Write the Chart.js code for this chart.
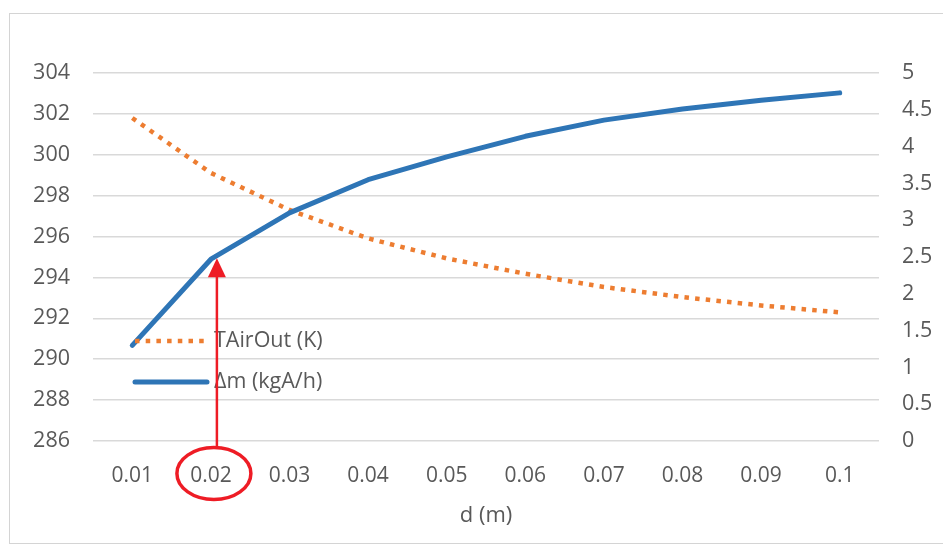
<!DOCTYPE html>
<html>
<head>
<meta charset="utf-8">
<script src="https://cdn.jsdelivr.net/npm/chart.js@4/dist/chart.umd.min.js"></script>
<style>
  html, body { margin: 0; padding: 0; background: #ffffff; }
  #wrap { width: 943px; height: 546px; position: relative; }
</style>
</head>
<body>
<div id="wrap"><canvas id="c" width="943" height="546"></canvas></div>
<script>
// Channel spacing d (m)
const categories = ['0.01', '0.02', '0.03', '0.04', '0.05', '0.06', '0.07', '0.08', '0.09', '0.1'];
// Outlet air temperature (K), left axis
const tAirOut = [301.80, 299.11, 297.30, 295.91, 294.93, 294.18, 293.53, 293.04, 292.63, 292.29];
// Mass change (kgA/h), right axis
const deltaM = [1.30, 2.47, 3.10, 3.55, 3.86, 4.14, 4.36, 4.51, 4.63, 4.73];

const seriesLabels = ['TAirOut (K)', '\u0394m (kgA/h)'];
const xTitle = 'd (m)';
const leftTicks = { min: 286, max: 304, step: 2 };
const rightTicks = { min: 0, max: 5, step: 0.5 };
const highlightIndex = 1;

const FONT = '"Open Sans", "Noto Sans", sans-serif';
const TEXT = '#595959';
const ORANGE = '#ED7D31';
const BLUE = '#2E75B6';
const RED = '#EE1C25';

// Frame around the chart
const framePlugin = {
  id: 'frame',
  beforeDraw(chart) {
    const ctx = chart.ctx;
    ctx.save();
    ctx.fillStyle = '#ffffff';
    ctx.fillRect(0, 0, chart.width, chart.height);
    ctx.strokeStyle = '#d4d4d4';
    ctx.lineWidth = 1;
    ctx.strokeRect(9.5, 13.5, chart.width, 530);
    ctx.restore();
  }
};

// Legend drawn inside the plot, lower left
const innerLegend = {
  id: 'innerLegend',
  afterDatasetsDraw(chart) {
    const ctx = chart.ctx;
    const x0 = chart.chartArea.left + 42;
    const rows = [341, 382];
    ctx.save();
    chart.data.datasets.forEach((ds, i) => {
      const y = rows[i];
      ctx.beginPath();
      ctx.strokeStyle = ds.borderColor;
      ctx.lineWidth = ds.borderWidth;
      ctx.lineCap = ds.borderCapStyle || 'butt';
      ctx.setLineDash(ds.borderDash || []);
      ctx.moveTo(x0, y);
      ctx.lineTo(x0 + 72, y);
      ctx.stroke();
      ctx.setLineDash([]);
      ctx.fillStyle = TEXT;
      ctx.font = '21.5px ' + FONT;
      ctx.textAlign = 'left';
      ctx.textBaseline = 'middle';
      ctx.fillText(ds.label, x0 + 79, y);
    });
    ctx.restore();
  }
};

// Red arrow from the highlighted d label up to its curve point, label circled
const callout = {
  id: 'callout',
  afterDraw(chart) {
    const ctx = chart.ctx;
    const pt = chart.getDatasetMeta(1).data[highlightIndex];
    const xs = chart.scales.x;
    const cx = xs.getPixelForValue(highlightIndex) + 3;
    const cy = 473.5;
    const ax = pt.x + 6;
    const tipY = pt.y - 1;
    ctx.save();
    ctx.strokeStyle = RED;
    ctx.fillStyle = RED;
    ctx.lineWidth = 2.5;
    ctx.beginPath();
    ctx.moveTo(ax, cy - 26);
    ctx.lineTo(ax, tipY + 18);
    ctx.stroke();
    ctx.beginPath();
    ctx.moveTo(ax, tipY);
    ctx.lineTo(ax - 9, tipY + 19);
    ctx.lineTo(ax + 9, tipY + 19);
    ctx.closePath();
    ctx.fill();
    ctx.lineWidth = 3.5;
    ctx.beginPath();
    ctx.ellipse(cx, cy, 37, 26, 0, 0, Math.PI * 2);
    ctx.stroke();
    ctx.restore();
  }
};

const plainNumber = v => String(Number(v.toFixed(2)));

new Chart(document.getElementById('c'), {
  type: 'line',
  data: {
    labels: categories,
    datasets: [
      {
        label: seriesLabels[0],
        data: tAirOut,
        yAxisID: 'y',
        borderColor: ORANGE,
        borderWidth: 4.5,
        borderDash: [4.5, 6.2],
        borderCapStyle: 'butt',
        pointRadius: 0,
        tension: 0,
        fill: false,
        order: 1
      },
      {
        label: seriesLabels[1],
        data: deltaM,
        yAxisID: 'y1',
        borderColor: BLUE,
        borderWidth: 5,
        borderCapStyle: 'round',
        borderJoinStyle: 'round',
        pointRadius: 0,
        tension: 0,
        fill: false,
        order: 0
      }
    ]
  },
  options: {
    responsive: false,
    animation: false,
    devicePixelRatio: 1,
    layout: { padding: { top: 73, left: 0, right: 0, bottom: 0 } },
    plugins: {
      legend: { display: false },
      tooltip: { enabled: false }
    },
    scales: {
      x: {
        offset: true,
        grid: { display: false, drawTicks: false },
        border: { display: false },
        ticks: { color: TEXT, font: { family: FONT, size: 21 }, padding: 22, maxRotation: 0 },
        title: { display: true, text: xTitle, color: TEXT, font: { family: FONT, size: 22 }, padding: { top: 0, bottom: 17 } },
        afterFit(s) { s.height = 105; }
      },
      y: {
        position: 'left',
        min: leftTicks.min,
        max: leftTicks.max,
        grid: { color: '#d9d9d9', lineWidth: 1.5, drawTicks: false },
        border: { display: false },
        ticks: { stepSize: leftTicks.step, color: TEXT, font: { family: FONT, size: 21.5 }, padding: 23, callback: plainNumber },
        afterFit(s) { s.width = 93; }
      },
      y1: {
        position: 'right',
        min: rightTicks.min,
        max: rightTicks.max,
        grid: { display: false, drawTicks: false },
        border: { display: false },
        ticks: { stepSize: rightTicks.step, color: TEXT, font: { family: FONT, size: 21.5 }, padding: 23, callback: plainNumber },
        afterFit(s) { s.width = 64; }
      }
    }
  },
  plugins: [framePlugin, innerLegend, callout]
});
</script>
</body>
</html>
